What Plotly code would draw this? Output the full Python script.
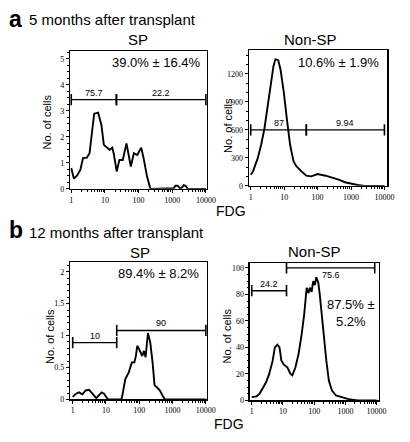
import numpy as np
import plotly.graph_objects as go

# ---------------- data ----------------
# a: 5 months, SP
a_sp_fdg = [1.0, 1.2, 1.5, 1.86, 2.24, 2.9, 3.5, 4.1, 4.8, 6.3, 7.9, 9.3, 12.3, 13.8, 16.6, 18.2,
            22.4, 26.9, 33.9, 43.7, 58.9, 72.4, 91.2, 120, 141, 178, 214, 229, 1100, 1250, 1450,
            1700, 1900, 2200, 2500, 2900, 10000]
a_sp_cells = [0.8, 0.39, 0.52, 0.73, 1.18, 1.2, 1.37, 2.19, 2.89, 2.93, 2.45, 1.69, 1.58, 1.5, 1.58, 1.37,
              0.67, 1.11, 1.11, 1.75, 0.86, 1.37, 1.3, 1.58, 1.18, 0.48, 0.1, 0.0, 0.02, 0.12, 0.12,
              0.02, 0.03, 0.14, 0.12, 0.0, 0.0]
# a: 5 months, Non-SP
a_nsp_fdg = [1.0, 1.17, 1.62, 2.04, 2.57, 3.16, 3.98, 4.79, 5.5, 6.6, 7.76, 9.77, 12.0, 15.1, 19.1,
             23.4, 33.1, 45.7, 64.6, 100, 174, 269, 427, 661, 1023, 1585, 2512, 10000]
a_nsp_cells = [120, 156, 297, 438, 615, 827, 1074, 1286, 1357, 1350, 1250, 1003, 721, 438, 262,
               209, 156, 109, 102, 127, 109, 92, 67, 39, 21, 10, 0, 0]
# b: 12 months, SP
b_sp_fdg = [1.0, 1.26, 1.55, 1.95, 2.45, 3.1, 3.8, 5.1, 6.0, 7.4, 8.7, 10.5, 11.5, 29, 31, 38, 48, 60,
            71, 79, 87, 98, 110, 123, 138, 155, 182, 214, 251, 288, 339, 417, 525, 590, 10000]
b_sp_cells = [0.04, 0.09, 0.11, 0.08, 0.14, 0.15, 0.10, 0.02, 0.06, 0.11, 0.09, 0.02, 0.0, 0.0, 0.06,
              0.32, 0.42, 0.58, 0.58, 0.68, 0.84, 0.79, 0.73, 0.68, 0.76, 0.66, 1.04, 0.89, 0.58,
              0.22, 0.19, 0.14, 0.04, 0.0, 0.0]
# b: 12 months, Non-SP
b_nsp_fdg = [1.0, 1.41, 1.78, 2.24, 2.88, 3.63, 4.68, 5.5, 6.6, 7.76, 8.9, 10.7, 13.8, 17.4, 20, 25.1,
             31.6, 39.8, 47.9, 57.5, 66, 72.4, 83, 93.3, 105, 117, 135, 151, 191, 245, 295, 372,
             501, 794, 1259, 2512, 10000]
b_nsp_cells = [2.5, 3, 5, 8.7, 13.7, 20, 30, 40, 42, 40, 30, 27, 25, 20, 19, 25,
               35, 50, 65, 85, 81, 85, 82, 90, 87, 93, 89, 80, 55, 30, 15, 7.5,
               3.7, 2.5, 1, 0, 0]

# gates: low, high, height, label
a_sp_gate_lo = [1, 22]
a_sp_gate_hi = [22, 10000]
a_sp_gate_y = [3.43, 3.43]
a_sp_gate_lbl = ["75.7", "22.2"]

a_nsp_gate_lo = [1, 46]
a_nsp_gate_hi = [46, 10000]
a_nsp_gate_y = [600, 600]
a_nsp_gate_lbl = ["87", "9.94"]

b_sp_gate_lo = [1, 21]
b_sp_gate_hi = [21, 10000]
b_sp_gate_y = [0.89, 1.08]
b_sp_gate_lbl = ["10", "90"]

b_nsp_gate_lo = [1, 13]
b_nsp_gate_hi = [13, 8700]
b_nsp_gate_y = [82.8, 100]
b_nsp_gate_lbl = ["24.2", "75.6"]

x_ticks = [1, 10, 100, 1000, 10000]
x_tick_text = ["1", "10", "100", "1000", "10000"]

pct_texts = ["39.0% ± 16.4%", "10.6% ± 1.9%", "89.4% ± 8.2%", "87.5% ±<br>5.2%"]
panel_titles = ["SP", "Non-SP", "SP", "Non-SP"]

# ---------------- layout helpers ----------------
W, H = 410, 442
SANS = "Liberation Sans, Arial, Helvetica, sans-serif"
SERIF = "Liberation Serif, Times New Roman, serif"


def dx(px):
    return px / W


def dy(py):
    return 1 - py / H


panels = [
    dict(x=(71, 211), y=(52, 191), xr=[-0.029, 4.029], yr=[0, 5.285],
         yt=[0, 1, 2, 3, 4, 5], ym=0.25,
         fdg=a_sp_fdg, cells=a_sp_cells,
         g=(a_sp_gate_lo, a_sp_gate_hi, a_sp_gate_y, a_sp_gate_lbl), gshift=[7, 7]),
    dict(x=(254, 396), y=(51, 188), xr=[-0.058, 4.087], yr=[0, 1452],
         yt=[0, 300, 600, 900, 1200], ym=100,
         fdg=a_nsp_fdg, cells=a_nsp_cells,
         g=(a_nsp_gate_lo, a_nsp_gate_hi, a_nsp_gate_y, a_nsp_gate_lbl), gshift=[7, 7]),
    dict(x=(71, 211), y=(265, 404), xr=[-0.073, 4.03], yr=[0, 2.152],
         yt=[0, 0.5, 1, 1.5, 2], ym=0.1,
         fdg=b_sp_fdg, cells=b_sp_cells,
         g=(b_sp_gate_lo, b_sp_gate_hi, b_sp_gate_y, b_sp_gate_lbl), gshift=[7, 7]),
    dict(x=(255, 387), y=(266, 405), xr=[-0.0625, 4.0625], yr=[0, 103.7],
         yt=[0, 20, 40, 60, 80, 100], ym=5,
         fdg=b_nsp_fdg, cells=b_nsp_cells,
         g=(b_nsp_gate_lo, b_nsp_gate_hi, b_nsp_gate_y, b_nsp_gate_lbl), gshift=[7, -7]),
]

minor_x = [m * 10 ** d for d in range(0, 4) for m in range(2, 10)]

fig = go.Figure()
annotations = []
layout = dict(width=W, height=H, margin=dict(l=0, r=0, t=0, b=0),
              paper_bgcolor="white", plot_bgcolor="white", showlegend=False)

for i, p in enumerate(panels, start=1):
    xa = "x" if i == 1 else f"x{i}"
    ya = "y" if i == 1 else f"y{i}"
    xkey = "xaxis" if i == 1 else f"xaxis{i}"
    ykey = "yaxis" if i == 1 else f"yaxis{i}"

    fig.add_trace(go.Scatter(x=p["fdg"], y=p["cells"], mode="lines",
                             line=dict(color="black", width=1.9, shape="linear"),
                             xaxis=xa, yaxis=ya, hoverinfo="skip"))
    g_lo, g_hi, g_y, g_lbl = p["g"]
    for j in range(len(g_lo)):
        fig.add_trace(go.Scatter(x=[g_lo[j], g_hi[j]], y=[g_y[j], g_y[j]], mode="lines+markers",
                                 line=dict(color="black", width=1.4),
                                 marker=dict(symbol="line-ns", size=8,
                                             line=dict(color="black", width=1.6)),
                                 xaxis=xa, yaxis=ya, hoverinfo="skip", cliponaxis=False))
        mid = (np.log10(g_lo[j]) + np.log10(g_hi[j])) / 2
        annotations.append(dict(x=mid, y=g_y[j], xref=xa, yref=ya, text=g_lbl[j], showarrow=False,
                                yshift=p["gshift"][j], font=dict(family=SANS, size=9, color="black")))

    layout[xkey] = dict(type="log", range=p["xr"], domain=[dx(p["x"][0]), dx(p["x"][1])],
                        anchor=ya, showline=True, linecolor="black", linewidth=1.3, mirror=True,
                        ticks="outside", ticklen=3, tickwidth=1, tickcolor="black",
                        tickmode="array", tickvals=x_ticks, ticktext=x_tick_text,
                        tickfont=dict(family=SERIF, size=8, color="black"),
                        minor=dict(tickmode="array", tickvals=minor_x, ticks="outside",
                                   ticklen=2, tickwidth=1, tickcolor="black"),
                        showgrid=False, zeroline=False, fixedrange=True)
    layout[ykey] = dict(range=p["yr"], domain=[dy(p["y"][1]), dy(p["y"][0])],
                        anchor=xa, showline=True, linecolor="black", linewidth=1.3, mirror=True,
                        ticks="outside", ticklen=3, tickwidth=1, tickcolor="black",
                        tickmode="array", tickvals=p["yt"],
                        tickfont=dict(family=SERIF, size=8, color="black"),
                        minor=dict(dtick=p["ym"], ticks="outside", ticklen=1.5, tickwidth=1,
                                   tickcolor="black"),
                        showgrid=False, zeroline=False, fixedrange=True)


def ptext(x, y, text, size, xanchor="center", bold=False, angle=0, family=SANS):
    t = f"<b>{text}</b>" if bold else text
    annotations.append(dict(x=dx(x), y=dy(y), xref="paper", yref="paper", text=t, showarrow=False,
                            xanchor=xanchor, yanchor="middle", textangle=angle,
                            font=dict(family=family, size=size, color="black")))


ptext(6, 19, "a", 23, xanchor="left", bold=True)
ptext(27, 20, "5 months after transplant", 15, xanchor="left")
ptext(6, 233, "b", 23, xanchor="left", bold=True)
ptext(27, 235, "12 months after transplant", 15, xanchor="left")

ptext(140, 40, panel_titles[0], 15)
ptext(317, 40, panel_titles[1], 15)
ptext(142, 255, panel_titles[2], 15)
ptext(321, 254, panel_titles[3], 15)

ptext(207, 63, pct_texts[0], 13, xanchor="right")
ptext(390, 63, pct_texts[1], 13, xanchor="right")
ptext(205, 277, pct_texts[2], 13, xanchor="right")
ptext(359, 317, pct_texts[3], 13)

ptext(47, 123, "No. of cells", 11, angle=-90)
ptext(232, 127, "No. of cells", 11, angle=-90)
ptext(50, 340, "No. of cells", 11, angle=-90)
ptext(232, 340, "No. of cells", 11, angle=-90)

ptext(236, 213, "FDG", 14)
ptext(234, 429, "FDG", 14)

layout["annotations"] = annotations
fig.update_layout(**layout)
fig.write_html("out.html", config={"displayModeBar": False, "staticPlot": True},
               post_script="document.body.style.margin='0px';")
